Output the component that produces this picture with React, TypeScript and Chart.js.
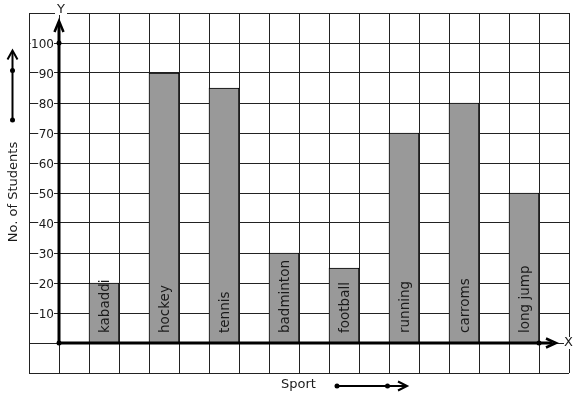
import React, { useEffect, useRef } from "react";
import { Chart, registerables } from "chart.js";

Chart.register(...registerables);

const categories = ["kabaddi", "hockey", "tennis", "badminton", "football", "running", "carroms", "long jump"];
const students = [20, 90, 85, 30, 25, 70, 80, 50];
const yTicks = [10, 20, 30, 40, 50, 60, 70, 80, 90, 100];
const xAxisTitle = "Sport";
const yAxisTitle = "No. of Students";

const FONT = '"DejaVu Sans", sans-serif';

function arrowHead(ctx: CanvasRenderingContext2D, tipX: number, tipY: number, dir: "up" | "right", len: number, half: number) {
  ctx.beginPath();
  if (dir === "up") {
    ctx.moveTo(tipX - half, tipY + len);
    ctx.lineTo(tipX, tipY);
    ctx.lineTo(tipX + half, tipY + len);
  } else {
    ctx.moveTo(tipX - len, tipY - half);
    ctx.lineTo(tipX, tipY);
    ctx.lineTo(tipX - len, tipY + half);
  }
  ctx.stroke();
}

function dot(ctx: CanvasRenderingContext2D, x: number, y: number, r: number) {
  ctx.beginPath();
  ctx.arc(x, y, r, 0, Math.PI * 2);
  ctx.fill();
}

const decorPlugin = {
  id: "decor",
  afterDatasetsDraw(chart: any) {
    const ctx: CanvasRenderingContext2D = chart.ctx;
    const xs = chart.scales.x;
    const ys = chart.scales.y;
    const x0 = xs.getPixelForValue(0);
    const y0 = ys.getPixelForValue(0);
    ctx.save();

    // bar labels
    ctx.fillStyle = "#1a1a1a";
    ctx.font = `13.5px ${FONT}`;
    ctx.textAlign = "left";
    ctx.textBaseline = "alphabetic";
    categories.forEach((c, i) => {
      const cx = xs.getPixelForValue(1.5 + 2 * i);
      ctx.save();
      ctx.translate(cx + 4.5, y0 - 10);
      ctx.rotate(-Math.PI / 2);
      ctx.fillText(c, 0, 0);
      ctx.restore();
    });

    // y tick labels with white backdrop
    ctx.font = `12px ${FONT}`;
    ctx.textAlign = "right";
    yTicks.forEach((v) => {
      const py = ys.getPixelForValue(v);
      const t = String(v);
      const w = ctx.measureText(t).width;
      const right = x0 - 5;
      ctx.fillStyle = "#ffffff";
      ctx.fillRect(right - w - 0.5, py - 2, w + 0.5, 4);
      ctx.fillStyle = "#1a1a1a";
      ctx.fillText(t, right, py + 4.5);
    });

    // axes
    ctx.strokeStyle = "#000";
    ctx.fillStyle = "#000";
    ctx.lineWidth = 3;
    ctx.lineCap = "butt";
    const yTop = ys.getPixelForValue(110) + 9;
    ctx.beginPath();
    ctx.moveTo(x0, y0);
    ctx.lineTo(x0, yTop + 2);
    ctx.stroke();
    const xEnd = xs.getPixelForValue(16.5);
    ctx.beginPath();
    ctx.moveTo(x0, y0);
    ctx.lineTo(xEnd - 2, y0);
    ctx.stroke();
    ctx.lineWidth = 2.5;
    arrowHead(ctx, x0, yTop - 1, "up", 11, 4.5);
    arrowHead(ctx, xEnd + 2, y0, "right", 10, 4.5);
    dot(ctx, x0, y0, 2.5);
    dot(ctx, x0, ys.getPixelForValue(100), 2.5);
    dot(ctx, xs.getPixelForValue(16), y0, 2.5);

    // axis letters
    ctx.font = `13px ${FONT}`;
    ctx.textAlign = "center";
    ctx.textBaseline = "middle";
    const top = chart.chartArea.top;
    ctx.fillStyle = "#fff";
    ctx.fillRect(x0 - 4, top - 2, 12, 4);
    ctx.fillStyle = "#1a1a1a";
    ctx.fillText("Y", x0 + 2, top - 3);
    const right = chart.chartArea.right;
    ctx.fillStyle = "#fff";
    ctx.fillRect(right - 5, y0 - 6, 10, 12);
    ctx.fillStyle = "#1a1a1a";
    ctx.fillText("X", right - 0.5, y0);

    // axis titles
    ctx.fillText(xAxisTitle, 298.5, 385);
    ctx.save();
    ctx.translate(13.5, 192);
    ctx.rotate(-Math.PI / 2);
    ctx.fillText(yAxisTitle, 0, 0);
    ctx.restore();

    // decorative arrows
    ctx.strokeStyle = "#000";
    ctx.fillStyle = "#000";
    ctx.lineWidth = 2;
    ctx.beginPath();
    ctx.moveTo(12.5, 120);
    ctx.lineTo(12.5, 51);
    ctx.stroke();
    arrowHead(ctx, 12.5, 50.5, "up", 9, 5);
    dot(ctx, 12.5, 70.5, 2.5);
    dot(ctx, 12.5, 120, 2.5);

    ctx.beginPath();
    ctx.moveTo(337, 386);
    ctx.lineTo(406, 386);
    ctx.stroke();
    arrowHead(ctx, 407, 386, "right", 9, 4.5);
    dot(ctx, 337, 386, 2.5);
    dot(ctx, 387.5, 386, 2.5);

    ctx.restore();
  },
};

export default function App() {
  const ref = useRef<HTMLCanvasElement | null>(null);
  useEffect(() => {
    if (!ref.current) return;
    const chart = new Chart(ref.current, {
      type: "bar",
      data: {
        datasets: [
          {
            label: "Students",
            data: students.map((v, i) => ({ x: 1.5 + 2 * i, y: v })),
            backgroundColor: "#999999",
            borderColor: "#000000",
            borderWidth: 1,
            barThickness: 30,
          },
        ],
      },
      options: {
        responsive: false,
        animation: false,
        layout: { padding: { left: 29, right: 8, top: 13, bottom: 26 } },
        plugins: { legend: { display: false }, tooltip: { enabled: false }, title: { display: false } },
        scales: {
          x: {
            type: "linear",
            offset: false,
            min: -1,
            max: 17,
            ticks: { display: false, stepSize: 1 },
            grid: { color: "#222", lineWidth: 1, drawTicks: false, offset: false },
            border: { display: false },
          },
          y: {
            type: "linear",
            min: -10,
            max: 110,
            ticks: { display: false, stepSize: 10 },
            grid: { color: "#222", lineWidth: 1, drawTicks: false },
            border: { display: false },
          },
        },
      },
      plugins: [decorPlugin],
    });
    return () => chart.destroy();
  }, []);
  return (
    <div style={{ position: "fixed", left: 0, top: 0, width: 577, height: 399, background: "#fff" }}>
      <canvas ref={ref} width={577} height={399} style={{ display: "block" }} />
    </div>
  );
}
